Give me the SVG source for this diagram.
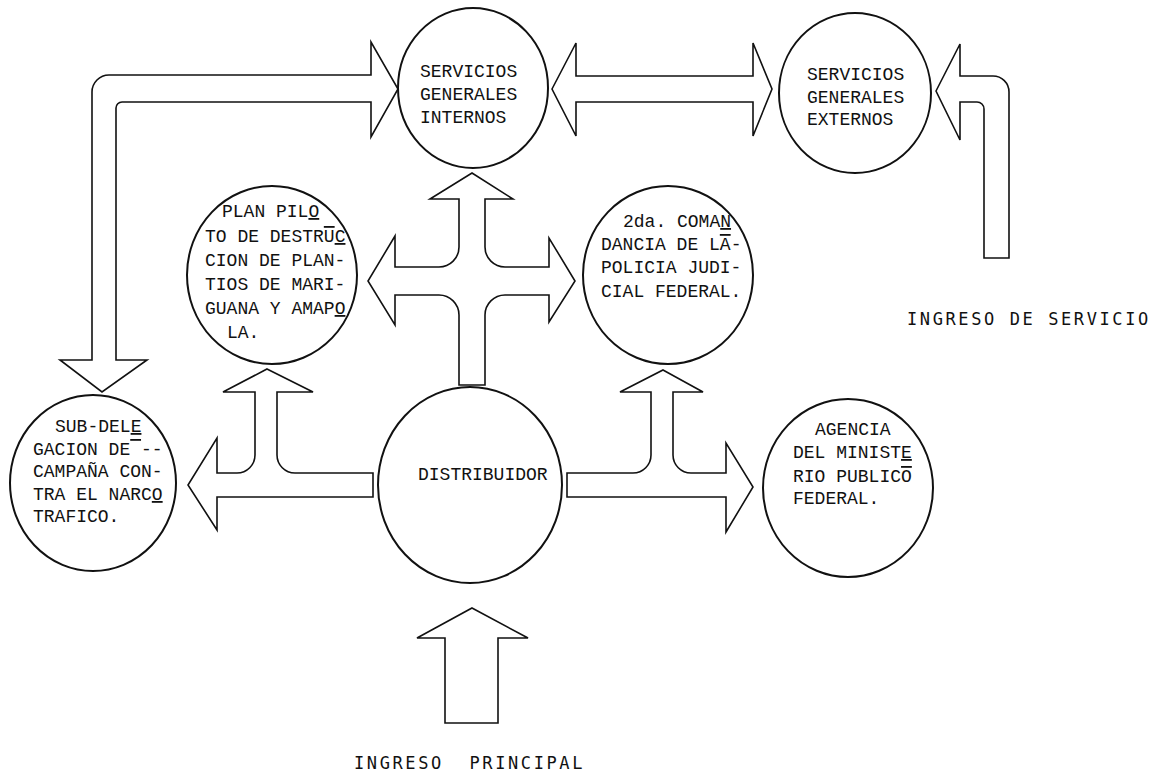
<svg xmlns="http://www.w3.org/2000/svg" width="1152" height="772" viewBox="0 0 1152 772">
<style>
.c{fill:#fff;stroke:#111;stroke-width:2}
.a{fill:#fff;stroke:#111;stroke-width:1.6;stroke-linejoin:miter}
.t{font-family:"Liberation Mono","Courier New",monospace;font-size:18px;fill:#111}
.l{font-family:"DejaVu Sans Mono",monospace;font-size:17px;letter-spacing:2.6px;fill:#111}
</style>
<rect width="1152" height="772" fill="#fff"/>
<g id="connectors">
<path class="a" d="M371,75 L371,42 L398,89 L371,137 L371,102 L122,102 A6,6 0 0 0 116,108 L116,360 L147,360 L102,392 L60,360 L92,360 L92,92 A17,17 0 0 1 109,75 Z"/>
<path class="a" d="M552,89 L576,43 L576,76 L753,76 L753,43 L772,89 L753,136 L753,102 L576,102 L576,136 Z"/>
<path class="a" d="M936,91 L960,44 L960,76 L993,76 A16,16 0 0 1 1009,92 L1009,258 L984,258 L984,109 A7,7 0 0 0 977,102 L960,102 L960,140 Z"/>
<path class="a" d="M472,173 L513,199 L485,199 L485,247 A20,20 0 0 0 505,267 L549,267 L549,238 L575,281 L549,322 L549,295 L505,295 A20,20 0 0 0 485,315 L485,385 L459,385 L459,315 A20,20 0 0 0 439,295 L395,295 L395,325 L368,281 L395,236 L395,267 L439,267 A20,20 0 0 0 459,247 L459,199 L430,199 Z"/>
<path class="a" d="M267,369 L313,392 L277,392 L277,455 A18,18 0 0 0 295,473 L373,473 L373,497 L217,497 L217,530 L188,485 L217,438 L217,473 L237,473 A18,18 0 0 0 255,455 L255,392 L223,392 Z"/>
<path class="a" d="M663,370 L703,392 L673,392 L673,455 A18,18 0 0 0 691,473 L726,473 L726,443 L753,487 L726,532 L726,497 L567,497 L567,473 L633,473 A18,18 0 0 0 651,455 L651,392 L620,392 Z"/>
<path class="a" d="M472,608 L528,638 L498,638 L498,723 L445,723 L445,638 L417,638 Z"/>
</g>
<g id="sgi">
<ellipse class="c" cx="473" cy="88" rx="75" ry="80"/>
<text class="t" x="420" y="77">SERVICIOS</text>
<text class="t" x="420" y="100">GENERALES</text>
<text class="t" x="420" y="123">INTERNOS</text>
</g>
<g id="sge">
<ellipse class="c" cx="855" cy="93" rx="76" ry="80"/>
<text class="t" x="807" y="80">SERVICIOS</text>
<text class="t" x="807" y="103">GENERALES</text>
<text class="t" x="807" y="125">EXTERNOS</text>
</g>
<g id="plan">
<ellipse class="c" cx="272" cy="275" rx="85" ry="89"/>
<text class="t" x="222" y="217">PLAN PIL<tspan text-decoration="underline">O</tspan></text>
<text class="t" x="205" y="242">TO DE DESTR<tspan text-decoration="overline">U</tspan><tspan text-decoration="underline">C</tspan></text>
<text class="t" x="205" y="266">CION DE PLAN-</text>
<text class="t" x="205" y="290">TIOS DE MARI-</text>
<text class="t" x="205" y="314">GUANA Y AMAP<tspan text-decoration="underline">O</tspan></text>
<text class="t" x="227" y="338">LA.</text>
</g>
<g id="policia">
<ellipse class="c" cx="668" cy="275" rx="85" ry="89"/>
<text class="t" x="623" y="227">2da. COMA<tspan text-decoration="underline">N</tspan></text>
<text class="t" x="601" y="250">DANCIA DE L<tspan text-decoration="overline">A</tspan>-</text>
<text class="t" x="601" y="273">POLICIA JUDI-</text>
<text class="t" x="601" y="297">CIAL FEDERAL.</text>
</g>
<g id="subdelegacion">
<ellipse class="c" cx="93" cy="483" rx="83" ry="88"/>
<text class="t" x="55" y="432">SUB-DEL<tspan text-decoration="underline">E</tspan></text>
<text class="t" x="33" y="455">GACION DE<tspan text-decoration="overline"> </tspan>--</text>
<text class="t" x="33" y="477">CAMPAÑA CON-</text>
<text class="t" x="33" y="500">TRA EL NARC<tspan text-decoration="underline">O</tspan></text>
<text class="t" x="33" y="522">TRAFICO.</text>
</g>
<g id="distribuidor">
<ellipse class="c" cx="470" cy="485" rx="92" ry="98"/>
<text class="t" x="418" y="480">DISTRIBUIDOR</text>
</g>
<g id="agencia">
<ellipse class="c" cx="848" cy="488" rx="85" ry="89"/>
<text class="t" x="815" y="435">AGENCIA</text>
<text class="t" x="793" y="458">DEL MINIST<tspan text-decoration="underline">E</tspan></text>
<text class="t" x="793" y="482">RIO PUBLIC<tspan text-decoration="overline">O</tspan></text>
<text class="t" x="793" y="504">FEDERAL.</text>
</g>
<g id="ingreso-servicio">
<text class="l" x="907" y="325">INGRESO DE SERVICIO</text>
</g>
<g id="ingreso-principal">
<text class="l" x="354" y="769" xml:space="preserve">INGRESO  PRINCIPAL</text>
</g>
</svg>
